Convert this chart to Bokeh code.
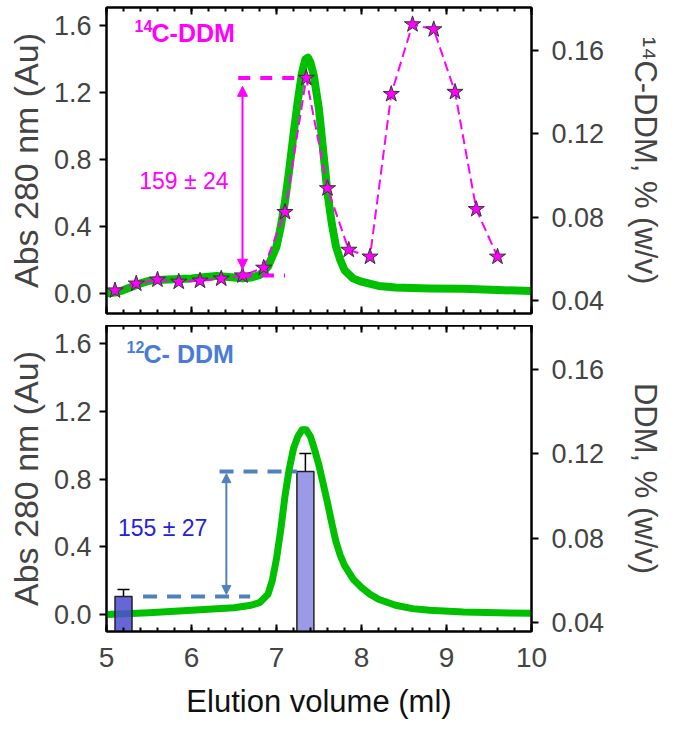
from bokeh.plotting import figure
from bokeh.models import (Range1d, LinearAxis, SingleIntervalTicker, PrintfTickFormatter,
                          Arrow, NormalHead, Label, Whisker, TeeHead, ColumnDataSource)
from bokeh.layouts import column
from bokeh.embed import file_html
from bokeh.resources import INLINE

# ---------------- data ----------------
# top panel: Abs 280 trace
abs_top_x = [5.0, 5.1, 5.2, 5.3, 5.4, 5.5, 5.6, 5.8, 6.0, 6.2, 6.3, 6.4, 6.5, 6.6, 6.7, 6.8, 6.9,
             7.0, 7.05, 7.1, 7.15, 7.2, 7.25, 7.3, 7.34, 7.37, 7.4, 7.44, 7.5, 7.55, 7.6, 7.65,
             7.7, 7.75, 7.8, 7.9, 8.0, 8.2, 8.4, 8.8, 9.2, 9.6, 10.0]
abs_top_y = [0.0, 0.005, 0.02, 0.04, 0.06, 0.075, 0.08, 0.085, 0.09, 0.1, 0.105, 0.1, 0.095, 0.09, 0.095, 0.11, 0.16,
             0.28, 0.4, 0.55, 0.74, 0.95, 1.15, 1.32, 1.4, 1.41, 1.38, 1.3, 1.1, 0.85, 0.6, 0.42,
             0.28, 0.2, 0.14, 0.09, 0.07, 0.045, 0.035, 0.03, 0.028, 0.02, 0.015]
# top panel: 14C-DDM fractions (right axis, % w/v)
star_x = [5.1, 5.35, 5.6, 5.85, 6.1, 6.35, 6.6, 6.85, 7.1, 7.35, 7.6, 7.85, 8.1, 8.35, 8.6, 8.85, 9.1, 9.35, 9.6]
star_y = [0.0448, 0.0481, 0.050, 0.049, 0.0495, 0.0505, 0.052, 0.0557, 0.0824, 0.1467, 0.0938,
          0.0643, 0.061, 0.139, 0.1724, 0.170, 0.140, 0.0838, 0.061]
# bottom panel: Abs 280 trace
abs_bot_x = [5.0, 5.5, 6.0, 6.5, 6.7, 6.8, 6.9, 6.95, 7.0, 7.05, 7.1, 7.15, 7.2, 7.25, 7.3, 7.35, 7.4,
             7.45, 7.5, 7.55, 7.6, 7.65, 7.7, 7.75, 7.8, 7.9, 8.0, 8.1, 8.2, 8.4, 8.6, 8.8, 9.2, 9.6, 10.0]
abs_bot_y = [0.0, 0.01, 0.025, 0.04, 0.055, 0.07, 0.12, 0.2, 0.33, 0.5, 0.7, 0.86, 0.98, 1.05, 1.09, 1.09, 1.05,
             0.97, 0.88, 0.77, 0.66, 0.54, 0.43, 0.35, 0.29, 0.21, 0.16, 0.12, 0.09, 0.055, 0.035, 0.025, 0.015, 0.01, 0.008]
# bottom panel: 12C-DDM bars (right axis, % w/v)
bar_x = [5.2, 7.34]
bar_y = [0.0523, 0.1116]
bar_err = [0.0556, 0.1202]
bar_colors = ["#4B4BD2", "#9A9AE6"]
bar_alpha = [0.85, 1.0]

x_title = "Elution volume (ml)"
left_label = "Abs 280 nm (Au)"
right_label_top = "\u00b9\u2074C-DDM, % (w/v)"
right_label_bot = "DDM, % (w/v)"
diff_top = "159 \u00b1 24"
diff_bot = "155 \u00b1 27"

FONT = "Liberation Sans"
GREEN = "#00C000"
MAG = "#FF00FF"
STEEL = "#4F81BD"
X_TICKS = [5, 6, 7, 8, 9, 10]


def mirror_axis(p, loc):
    ax = LinearAxis(ticker=SingleIntervalTicker(interval=1, num_minor_ticks=5),
                    major_label_overrides={t: "" for t in X_TICKS},
                    major_label_standoff=0, major_label_text_font_size="1px",
                    axis_line_width=2, major_tick_line_width=2, minor_tick_line_width=2,
                    major_tick_in=7, major_tick_out=0, minor_tick_in=4, minor_tick_out=0)
    p.add_layout(ax, loc)
    return ax


def make_panel(y_left, y_right, right_label, show_x_labels, frame_h, top_border, bottom_border):
    p = figure(frame_width=425, frame_height=frame_h,
               x_range=Range1d(5, 10), y_range=Range1d(*y_left),
               output_backend="svg", toolbar_location=None,
               min_border_left=106, min_border_right=136, min_border_top=top_border,
               min_border_bottom=bottom_border, x_axis_location=None)
    p.extra_y_ranges = {"right": Range1d(*y_right)}
    p.xgrid.grid_line_color = None
    p.ygrid.grid_line_color = None
    p.outline_line_color = "black"
    p.outline_line_width = 2
    p.background_fill_color = "white"
    p.border_fill_color = "white"

    if show_x_labels:
        xa = LinearAxis(ticker=SingleIntervalTicker(interval=1, num_minor_ticks=5),
                        formatter=PrintfTickFormatter(format="%d"),
                        axis_line_width=2, major_tick_line_width=2, minor_tick_line_width=2,
                        major_tick_in=7, major_tick_out=0, minor_tick_in=4, minor_tick_out=0,
                        major_label_text_font=FONT, major_label_text_font_size="28px",
                        major_label_standoff=16,
                        axis_label=x_title, axis_label_text_font=FONT,
                        axis_label_text_font_size="31px", axis_label_text_font_style="normal",
                        axis_label_standoff=14, axis_label_text_color="#111111")
        p.add_layout(xa, "below")
    else:
        mirror_axis(p, "below")
    mirror_axis(p, "above")

    # left axis
    ya = p.yaxis[0]
    ya.ticker = SingleIntervalTicker(interval=0.4, num_minor_ticks=0)
    ya.formatter = PrintfTickFormatter(format="%.1f")
    ya.axis_line_width = 2
    ya.major_tick_line_width = 2
    ya.major_tick_in = 0
    ya.major_tick_out = 7
    ya.minor_tick_line_color = None
    ya.major_label_text_font = FONT
    ya.major_label_text_font_size = "27px"
    ya.major_label_standoff = 8
    ya.axis_label = left_label
    ya.axis_label_text_font = FONT
    ya.axis_label_text_font_size = "34px"
    ya.axis_label_text_font_style = "normal"
    ya.axis_label_standoff = 6

    ra = LinearAxis(y_range_name="right",
                    ticker=SingleIntervalTicker(interval=0.04, num_minor_ticks=0),
                    formatter=PrintfTickFormatter(format="%.2f"),
                    axis_line_width=2, major_tick_line_width=2, major_tick_in=0, major_tick_out=7,
                    minor_tick_line_color=None,
                    major_label_text_font=FONT, major_label_text_font_size="27px",
                    major_label_standoff=13,
                    axis_label=right_label, axis_label_text_font=FONT,
                    axis_label_text_font_size="31px", axis_label_text_font_style="normal",
                    axis_label_standoff=21)
    p.add_layout(ra, "right")
    return p


def panel_title(p, x, y, sup, main, color):
    p.add_layout(Label(x=x, y=y, text=sup, text_align="left", text_baseline="middle",
                       y_offset=7, text_font=FONT, text_font_size="16px",
                       text_font_style="bold", text_color=color))
    p.add_layout(Label(x=x, y=y, text=main, text_align="left", text_baseline="middle",
                       x_offset=17, text_font=FONT, text_font_size="25px",
                       text_font_style="bold", text_color=color))


# ---------------- top panel ----------------
p1 = make_panel((-0.12, 1.71), (0.0338, 0.1805), right_label_top, False, 306, 7, 12)
p1.line(abs_top_x, abs_top_y, line_color=GREEN, line_width=8, line_join="round", line_cap="round")
p1.line(star_x, star_y, y_range_name="right", line_color=MAG, line_width=2, line_dash="10 5")
p1.scatter(star_x, star_y, y_range_name="right", marker="star", size=17,
           fill_color=MAG, line_color="#333333", line_width=1)

i_lo, i_hi = 6, 9
p1.line([star_x[i_lo] - 0.05, star_x[i_hi]], [star_y[i_hi]] * 2, y_range_name="right",
        line_color=MAG, line_width=4, line_dash="12 10")
p1.line([star_x[i_lo] - 0.03, star_x[i_lo + 2]], [star_y[i_lo]] * 2, y_range_name="right",
        line_color=MAG, line_width=4, line_dash="12 10")
p1.add_layout(Arrow(x_start=star_x[i_lo], y_start=star_y[i_lo] + 0.003,
                    x_end=star_x[i_lo], y_end=star_y[i_hi] - 0.004, y_range_name="right",
                    line_color=MAG, line_width=2,
                    start=NormalHead(size=10, fill_color=MAG, line_color=MAG),
                    end=NormalHead(size=10, fill_color=MAG, line_color=MAG)))
p1.add_layout(Label(x=5.91, y=0.67, text=diff_top, text_align="center", text_baseline="middle",
                    text_font=FONT, text_font_size="23px", text_color=MAG))
panel_title(p1, 5.33, 1.555, "14", "C-DDM", MAG)

# ---------------- bottom panel ----------------
p2 = make_panel((-0.10, 1.706), (0.0357, 0.1809), right_label_bot, True, 306, 0, 10)
p2.line(abs_bot_x, abs_bot_y, line_color=GREEN, line_width=7, line_join="round", line_cap="round")
bsrc = ColumnDataSource(dict(x=bar_x, top=bar_y, err=bar_err, color=bar_colors, alpha=bar_alpha))
p2.vbar(x="x", top="top", bottom=0.03, width=0.2, source=bsrc, y_range_name="right",
        fill_color="color", fill_alpha="alpha", line_color="#222222", line_width=1.5)
p2.add_layout(Whisker(base="x", lower="top", upper="err", source=bsrc, y_range_name="right",
                      line_color="black", line_width=1.5,
                      upper_head=TeeHead(size=12, line_color="black", line_width=1.5),
                      lower_head=None))

p2.line([6.33, bar_x[1] - 0.1], [bar_y[1]] * 2, y_range_name="right",
        line_color=STEEL, line_width=4, line_dash="14 10")
p2.line([5.43, 6.69], [bar_y[0]] * 2, y_range_name="right",
        line_color=STEEL, line_width=4, line_dash="14 10")
p2.add_layout(Arrow(x_start=6.41, y_start=bar_y[0] + 0.001, x_end=6.41, y_end=bar_y[1] - 0.001,
                    y_range_name="right", line_color=STEEL, line_width=2,
                    start=NormalHead(size=9, fill_color=STEEL, line_color=STEEL),
                    end=NormalHead(size=9, fill_color=STEEL, line_color=STEEL)))
p2.add_layout(Label(x=5.66, y=0.51, text=diff_bot, text_align="center", text_baseline="middle",
                    text_font=FONT, text_font_size="23px", text_color="#2222DD"))
panel_title(p2, 5.236, 1.54, "12", "C- DDM", "#4A7BD8")

layout = column(p1, p2, spacing=0)
open("out.html", "w").write(file_html(layout, INLINE))
